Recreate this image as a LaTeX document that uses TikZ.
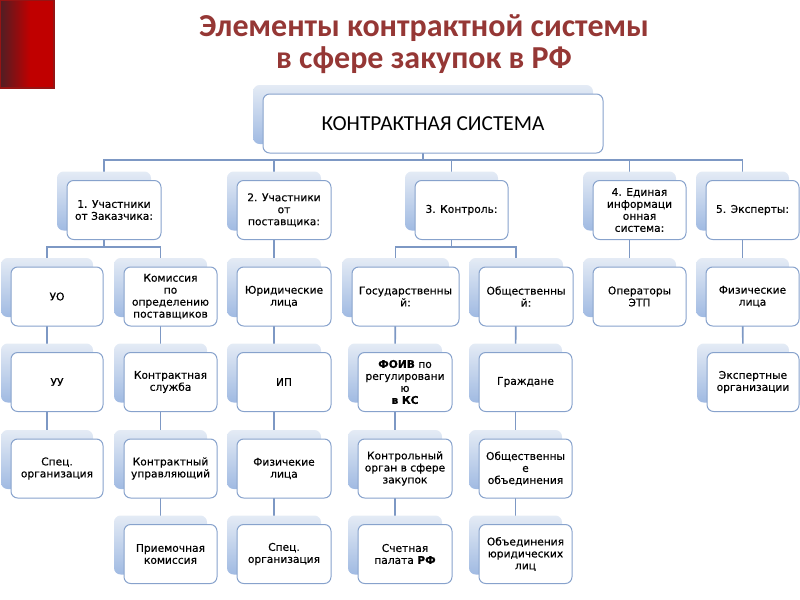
\documentclass[tikz,border=0pt]{standalone}
\usepackage{fontspec}
\setmainfont{DejaVu Sans}[FakeBold=0.35]
\newfontfamily\calfont{Carlito}
\usetikzlibrary{calc}
\pgfdeclarelayer{bg}
\pgfsetlayers{bg,main}
\definecolor{titlered}{RGB}{149,55,53}
\definecolor{linec}{RGB}{125,152,196}
\definecolor{boxline}{RGB}{135,162,204}
\definecolor{shA}{RGB}{160,186,226}
\definecolor{shB}{RGB}{228,235,245}
\definecolor{barred}{RGB}{192,0,0}
\definecolor{bardark}{RGB}{80,30,36}
\definecolor{barborder}{RGB}{150,20,20}
\tikzset{
  box/.style={draw=boxline, line width=0.75pt, fill=white, rounded corners=5pt,
    align=center, font=\fontsize{8}{9}\selectfont, inner sep=1pt, minimum height=44.25pt},
  shad/.style={rounded corners=5pt, top color=shB, bottom color=shA,
    minimum height=44.25pt, inner sep=0pt},
  conn/.style={draw=linec, line width=1.2pt},
  titletext/.style={anchor=base, text=titlered, font=\calfont\bfseries\fontsize{24}{26}\selectfont},
}
\newcommand\bx[6][]{%
  \node[shad, minimum width=#5*0.75pt] (s#2) at ($(#3,#4)+(-10,-9)$) {};
  \node[box, minimum width=#5*0.75pt, #1] (#2) at (#3,#4) {#6};}
\begin{document}
\begin{tikzpicture}[x=0.75pt, y=-0.75pt]
\useasboundingbox (0,0) rectangle (800,600);
% red bar
\shade[left color=bardark, right color=barred] (0,0) rectangle (30,88);
\fill[barred] (30,0) rectangle (54,88);
\draw[barborder, line width=1pt] (0,0) rectangle (54,88);
% title
\node[titletext] (t1) at (424,36) {Элементы контрактной системы};
\node[titletext] (t2) at (424,68) {в сфере закупок в РФ};
% top
\bx[font=\calfont\fontsize{16}{18}\selectfont]{top}{433}{123.5}{340}{КОНТРАКТНАЯ СИСТЕМА}
% level 1
\bx{L1}{114}{210}{94}{1. Участники\\от Заказчика:}
\bx{L2}{284}{210}{94}{2. Участники\\от\\поставщика:}
\bx{L3}{461.5}{210}{93}{3. Контроль:}
\bx{L4}{639.5}{210}{93}{4. Единая\\информаци\\онная\\система:}
\bx{L5}{752.5}{210}{93}{5. Эксперты:}
% row 2
\bx{a1}{57}{296.5}{92}{УО}
\bx{b1}{170.5}{296.5}{93}{Комиссия\\по\\определению\\поставщиков}
\bx{c1}{284}{296.5}{94}{Юридические\\лица}
\bx{d1}{405.5}{296.5}{107}{Государственны\\й:}
\bx{e1}{526}{296.5}{94}{Общественны\\й:}
\bx{f1}{639.5}{296.5}{93}{Операторы\\ЭТП}
\bx{g1}{752.5}{296.5}{93}{Физические\\лица}
% row 3
\bx{a2}{57}{382}{92}{УУ}
\bx{b2}{170.5}{382}{93}{Контрактная\\служба}
\bx{c2}{284}{382}{94}{ИП}
\bx{d2}{405}{382}{94}{{\bfseries ФОИВ} по\\регулировани\\ю\\{\bfseries в КС}}
\bx{e2}{525.5}{382}{93}{Граждане}
\bx{g2}{753}{382}{92}{Экспертные\\организации}
% row 4
\bx{a3}{57}{468.5}{92}{Спец.\\организация}
\bx{b3}{170.5}{468.5}{93}{Контрактный\\управляющий}
\bx{c3}{284}{468.5}{94}{Физичекие\\лица}
\bx{d3}{405}{468.5}{94}{Контрольный\\орган в сфере\\закупок}
\bx{e3}{525.5}{468.5}{93}{Общественны\\е\\объединения}
% row 5
\bx{b4}{170.5}{554}{93}{Приемочная\\комиссия}
\bx{c4}{284}{554}{94}{Спец.\\организация}
\bx{d4}{405}{554}{94}{Счетная\\палата {\bfseries РФ}}
\bx{e4}{525.5}{554}{93}{Объединения\\юридических\\лиц}
% connectors
\begin{pgfonlayer}{bg}
\coordinate (h0) at (0,160);
\coordinate (h1) at (0,247);
\foreach \c in {L1,L2,L3,L4,L5}
  \draw[conn] (stop.center) -- (stop.center |- h0) -| (s\c.center);
\draw[conn] (sL1.center) -- (sL1.center |- h1) -| (sa1.center);
\draw[conn] (sL1.center) -- (sL1.center |- h1) -| (sb1.center);
\draw[conn] (sL3.center) -- (sL3.center |- h1) -| (sd1.center);
\draw[conn] (sL3.center) -- (sL3.center |- h1) -| (se1.center);
\draw[conn] (sL2.center) -- (sc1.center);
\draw[conn] (sL4.center) -- (sf1.center);
\draw[conn] (sL5.center) -- (sg1.center);
\draw[conn] (sa1.center) -- (sa2.center);
\draw[conn] (sa2.center) -- (sa3.center);
\draw[conn] (sb1.center) -- (sb2.center);
\draw[conn] (sb2.center) -- (sb3.center);
\draw[conn] (sb3.center) -- (sb4.center);
\draw[conn] (sc1.center) -- (sc2.center);
\draw[conn] (sc2.center) -- (sc3.center);
\draw[conn] (sc3.center) -- (sc4.center);
\draw[conn] (sd1.center) -- (sd2.center);
\draw[conn] (sd2.center) -- (sd3.center);
\draw[conn] (sd3.center) -- (sd4.center);
\draw[conn] (se1.center) -- (se2.center);
\draw[conn] (se2.center) -- (se3.center);
\draw[conn] (se3.center) -- (se4.center);
\draw[conn] (sg1.center) -- (sg2.center);
\end{pgfonlayer}
\end{tikzpicture}
\end{document}
